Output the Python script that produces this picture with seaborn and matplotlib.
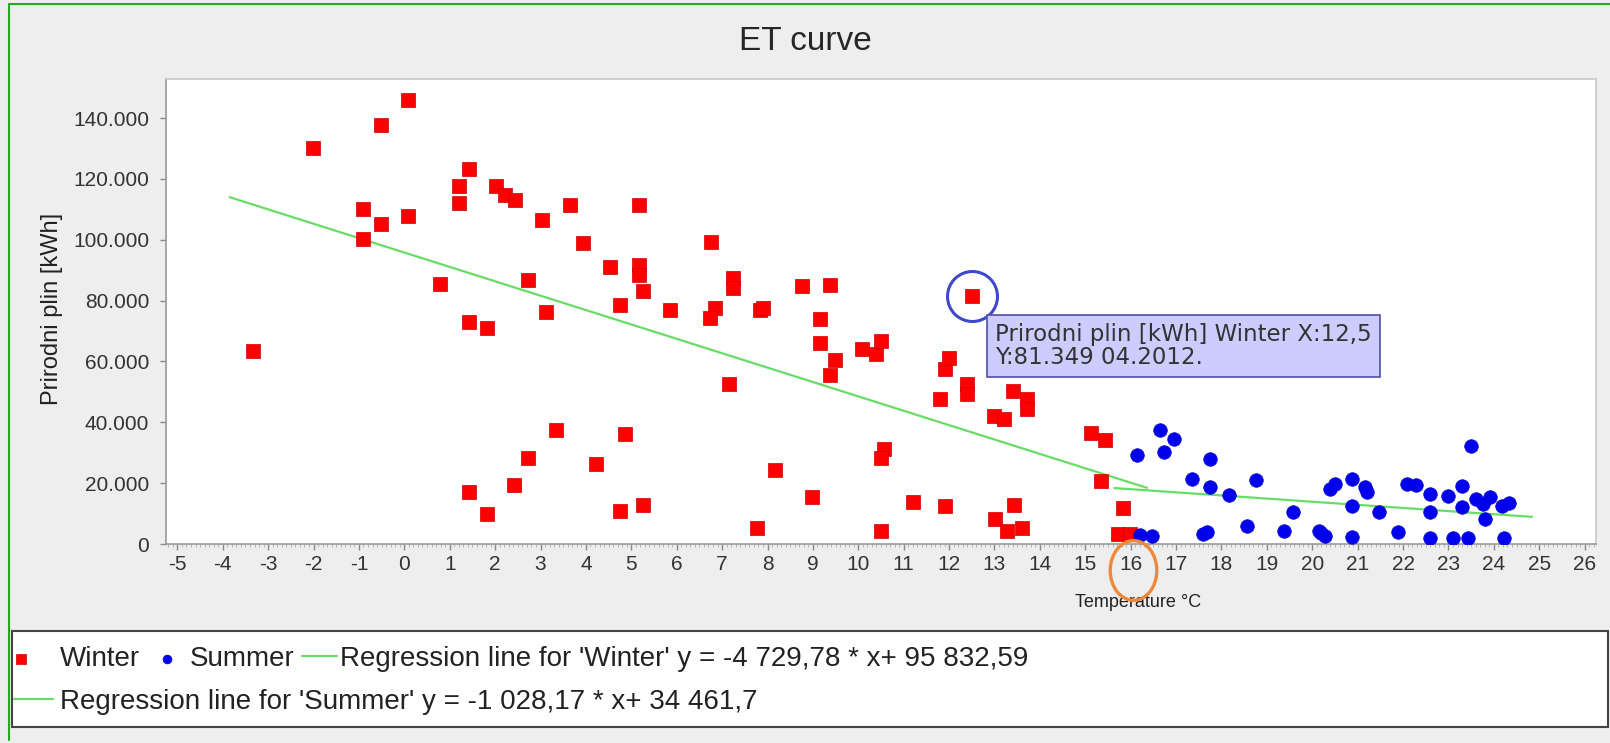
import matplotlib
matplotlib.use("Agg")
import matplotlib.pyplot as plt
from matplotlib.lines import Line2D
from matplotlib.patches import Rectangle
from matplotlib.ticker import FuncFormatter, MultipleLocator
import seaborn as sns

# Winter points (temperature in C, gas in kWh)
winter_x = [-3.33, -2.02, -0.92, -0.92, -0.52, -0.52, 0.09, 0.09, 0.79, 1.2,
            1.2, 1.42, 1.42, 1.42, 1.81, 1.81, 2.03, 2.22, 2.43, 2.42,
            2.72, 2.72, 3.03, 3.13, 3.33, 3.64, 3.94, 4.23, 4.54, 4.74,
            4.74, 4.85, 5.16, 5.16, 5.16, 5.25, 5.25, 5.85, 6.76, 6.85,
            6.74, 7.16, 7.25, 7.25, 7.77, 7.84, 7.91, 8.17, 8.77, 8.98,
            9.16, 9.16, 9.48, 9.38, 9.38, 10.08, 10.40, 10.49, 10.56, 10.49,
            10.49, 11.2, 11.81, 11.9, 11.99, 11.9, 12.39, 12.39, 12.5, 13.0,
            13.2, 13.02, 13.4, 13.42, 13.27, 13.6, 13.71, 13.71, 15.13, 15.44,
            15.35, 15.83, 15.73, 15.99]
winter_y = [63400, 130300, 110100, 100300, 137700, 105200, 145900, 107900, 85300, 117800,
            112200, 123300, 73000, 17200, 71100, 9800, 117700, 114800, 113100, 19300,
            86700, 28400, 106600, 76300, 37400, 111500, 98900, 26200, 90900, 78700,
            10900, 36300, 111500, 91800, 88500, 83000, 12800, 77000, 99100, 77600,
            74300, 52500, 87500, 84300, 5200, 77000, 77600, 24300, 84700, 15300,
            73800, 66100, 60600, 55400, 85200, 64200, 62300, 66700, 31200, 28400,
            4400, 13900, 47500, 57400, 61200, 12600, 52500, 49200, 81349, 42100,
            41000, 8200, 50300, 12800, 4400, 5200, 47500, 44300, 36600, 34100,
            20800, 11700, 3300, 3300]

# Summer points
summer_x = [16.14, 16.21, 16.47, 16.65, 16.95, 16.74, 17.35, 17.59, 17.68, 17.75,
            17.75, 18.17, 18.56, 18.77, 19.37, 19.57, 20.15, 20.29, 20.2, 20.4,
            20.5, 20.87, 20.87, 20.87, 21.17, 21.2, 21.48, 21.88, 22.09, 22.29,
            22.6, 22.6, 22.6, 23.0, 23.1, 23.29, 23.29, 23.42, 23.5, 23.6,
            23.77, 23.92, 23.81, 24.18, 24.33, 24.22]
summer_y = [29200, 2900, 2500, 37500, 34400, 30100, 21500, 3300, 3800, 27900,
            18600, 16200, 6000, 21100, 4400, 10600, 4400, 2700, 3500, 18000,
            19700, 21300, 12600, 2200, 18600, 17000, 10400, 4000, 19700, 19400,
            16400, 10600, 1900, 15800, 1900, 19100, 12200, 1900, 32200, 14800,
            13100, 15300, 8200, 12600, 13400, 1900]

# Regression line end points
winter_line_x = [-3.85, 16.36]
winter_line_y = [114000, 18450]
summer_line_x = [15.64, 24.84]
summer_line_y = [18380, 8920]

winter_label = "Regression line for 'Winter' y = -4 729,78 * x+ 95 832,59"
summer_label = "Regression line for 'Summer' y = -1 028,17 * x+ 34 461,7"

x_ticks = list(range(-5, 27))
y_ticks = [0, 20000, 40000, 60000, 80000, 100000, 120000, 140000]

# highlighted point (tooltip) and circled tick
highlight_x = 12.5
highlight_y = 81349
highlight_date = "04.2012."
highlight_tick = 16

W, H = 1610, 743


def thousands(v, pos):
    """Format numbers with a dot as thousands separator"""
    return f"{int(round(v)):,}".replace(",", ".")


def add_legend_item(fig, handle, label, x_px, y_px, hlen, hpad):
    """Put one legend entry at a pixel position inside the legend box"""
    fig.legend([handle], [label], loc="center left", frameon=False,
               fontsize=20, borderpad=0, borderaxespad=0, markerscale=0.65,
               labelcolor="#222222", handlelength=hlen, handletextpad=hpad,
               bbox_to_anchor=(x_px / W, 1 - y_px / H))


def main():
    """Main function"""
    sns.set_style("white")
    plt.rcParams["font.family"] = ["Liberation Sans", "DejaVu Sans"]

    fig = plt.figure(figsize=(W / 100, H / 100), dpi=100, facecolor="#EEEEEE")
    ax = fig.add_axes([166 / W, 1 - 544 / H, 1430 / W, 465.5 / H])
    ax.set_facecolor("white")

    sns.scatterplot(x=winter_x, y=winter_y, marker="s", s=100, color="#FF0000",
                    edgecolor="#CC0000", linewidth=0.5, label="Winter", ax=ax,
                    zorder=3)
    sns.scatterplot(x=summer_x, y=summer_y, marker="o", s=95, color="#0000EE",
                    edgecolor="#0000CC", linewidth=0.5, label="Summer", ax=ax,
                    zorder=3)
    sns.lineplot(x=winter_line_x, y=winter_line_y, color="#66DD66", lw=1.6,
                 label=winter_label, ax=ax, zorder=2)
    sns.lineplot(x=summer_line_x, y=summer_line_y, color="#66DD66", lw=1.6,
                 label=summer_label, ax=ax, zorder=2)

    handles, labels = ax.get_legend_handles_labels()
    if ax.get_legend() is not None:
        ax.get_legend().remove()

    ax.set_xlim(-5.25, 26.25)
    ax.set_ylim(0, 153000)
    ax.set_xticks(x_ticks)
    ax.set_xticklabels([str(t) for t in x_ticks])
    ax.set_yticks(y_ticks)
    ax.yaxis.set_major_formatter(FuncFormatter(thousands))
    ax.xaxis.set_minor_locator(MultipleLocator(0.1))
    ax.tick_params(axis="both", which="major", direction="out", length=4,
                   width=1, color="#888888", labelsize=15, labelcolor="#333333",
                   bottom=True, left=True)
    ax.tick_params(axis="y", pad=8)
    ax.tick_params(axis="x", pad=4)
    ax.tick_params(axis="x", which="minor", direction="out", length=2.5,
                   width=0.6, color="#AAAAAA", bottom=True)
    for name, spine in ax.spines.items():
        spine.set_visible(True)
        spine.set_linewidth(1.2)
        spine.set_color("#999999" if name in ("left", "bottom") else "#C8C8C8")

    ax.set_xlabel("Temperature °C", fontsize=13, color="#222222")
    ax.set_ylabel("Prirodni plin [kWh]", fontsize=17, color="#222222")
    ax.xaxis.set_label_coords(0.68, -0.108)
    ax.yaxis.set_label_coords(-0.072, 0.505)

    fig.suptitle("ET curve", x=0.5, y=1 - 41 / H, va="center", fontsize=24)

    # tooltip with the highlighted point
    ax.plot([highlight_x], [highlight_y], marker="o", ms=36, mfc="none",
            mec="#3F48CC", mew=2.2, zorder=4)
    tip = (f"Prirodni plin [kWh] Winter X:{str(highlight_x).replace('.', ',')}\n"
           f"Y:{thousands(highlight_y, None)} {highlight_date}")
    ax.annotate(tip, xy=(highlight_x, highlight_y), xytext=(16.8, -19.4),
                textcoords="offset points", ha="left", va="top",
                fontsize=16.5, family="DejaVu Sans", color="#333333",
                linespacing=1.0, zorder=5,
                bbox=dict(boxstyle="square,pad=0.35", fc="#CCCCFF",
                          ec="#5050A8", lw=1.2))

    # orange ring around the tick label
    trans = matplotlib.transforms.blended_transform_factory(ax.transData,
                                                            ax.transAxes)
    ring = matplotlib.path.Path.unit_circle().transformed(
        matplotlib.transforms.Affine2D().scale(0.78, 1.0))
    ax.plot([highlight_tick + 0.06], [-0.056], transform=trans, marker=ring,
            ms=43, mfc="none", mec="#F0883A", mew=2.4, clip_on=False,
            zorder=6)

    # legend box and its two rows
    fig.add_artist(Rectangle((12 / W, 1 - 727 / H), 1596 / W, 96 / H,
                             transform=fig.transFigure, fc="white",
                             ec="#444444", lw=1.5, zorder=1))
    add_legend_item(fig, handles[0], labels[0], 13, 659, 0.6, 1.1)
    add_legend_item(fig, handles[1], labels[1], 159, 659, 0.6, 0.5)
    add_legend_item(fig, handles[2], labels[2], 302, 659, 1.26, 0.1)
    add_legend_item(fig, handles[3], labels[3], 14, 702, 1.4, 0.25)

    # green window frame
    fig.add_artist(Line2D([9 / W, 9 / W], [1 - 740 / H, 1 - 4 / H],
                          transform=fig.transFigure, color="#22AA22", lw=1.5))
    fig.add_artist(Line2D([9 / W, 1], [1 - 4 / H, 1 - 4 / H],
                          transform=fig.transFigure, color="#22AA22", lw=1.5))

    fig.savefig("out.png", dpi=100, facecolor=fig.get_facecolor())


if __name__ == "__main__":
    main()
